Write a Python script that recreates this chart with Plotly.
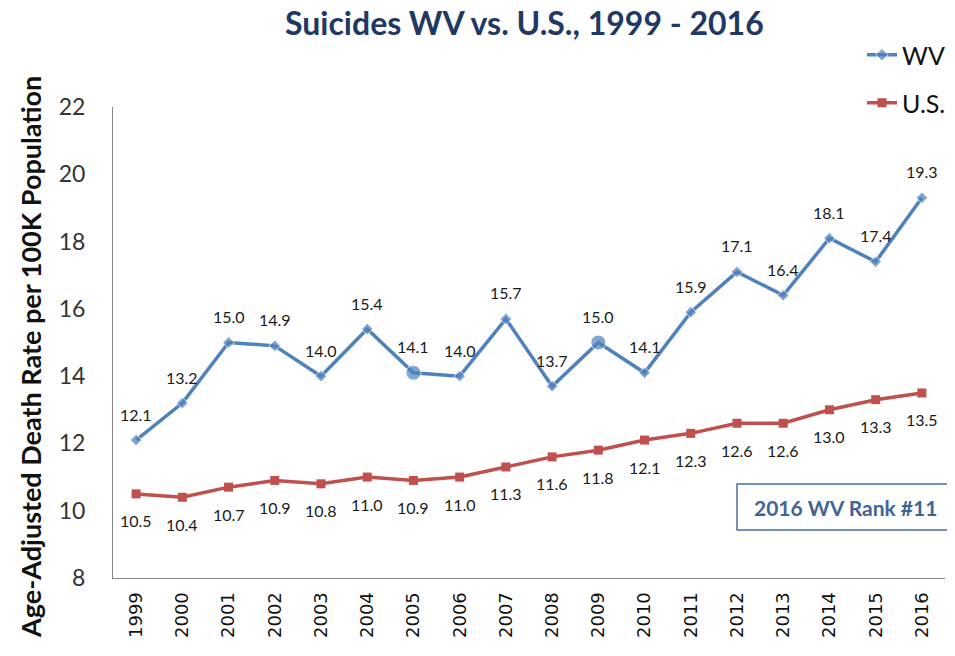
import plotly.graph_objects as go

years = [str(y) for y in range(1999, 2017)]
wv = [12.1, 13.2, 15.0, 14.9, 14.0, 15.4, 14.1, 14.0, 15.7, 13.7, 15.0, 14.1, 15.9, 17.1, 16.4, 18.1, 17.4, 19.3]
us = [10.5, 10.4, 10.7, 10.9, 10.8, 11.0, 10.9, 11.0, 11.3, 11.6, 11.8, 12.1, 12.3, 12.6, 12.6, 13.0, 13.3, 13.5]
highlight_years = ["2005", "2009"]

BLUE = "#4F81BD"
RED = "#C0504D"
LBL_FONT = dict(family="Lato, Liberation Sans", size=16, color="#1a1a1a")

# page has an 8px body margin; figure is sized/offset so plot area lands at page px 113..945, 107..578
W, H = 947, 648
L, T, R, B = 105, 99, 10, 78
PW, PH = W - L - R, H - T - B

wv_symbols = ["circle" if y in highlight_years else "diamond" for y in years]
wv_sizes = [15 if y in highlight_years else 9 for y in years]

fig = go.Figure()
fig.add_trace(go.Scatter(
    x=years, y=wv, name="WV", mode="lines+markers",
    line=dict(color=BLUE, width=3.5),
    marker=dict(color=BLUE, symbol=wv_symbols, size=wv_sizes),
    legend="legend",
))
fig.add_trace(go.Scatter(
    x=years, y=us, name="U.S.", mode="lines+markers",
    line=dict(color=RED, width=3.5),
    marker=dict(color=RED, symbol="square", size=9),
    legend="legend2",
))

for i, v in enumerate(wv):
    fig.add_annotation(x=i, y=v, xref="x", yref="y", text=f"{v:.1f}", showarrow=False,
                       yshift=26, font=LBL_FONT)
for i, v in enumerate(us):
    fig.add_annotation(x=i, y=v, xref="x", yref="y", text=f"{v:.1f}", showarrow=False,
                       yshift=-27, font=LBL_FONT)

def px(page_x):
    return (page_x - 8 - L) / PW

def py(page_y):
    return (H - B - (page_y - 8)) / PH

fig.update_layout(
    width=W, height=H,
    margin=dict(l=L, r=R, t=T, b=B, autoexpand=False),
    paper_bgcolor="white", plot_bgcolor="white",
    legend=dict(x=px(862), y=py(55), xanchor="left", yanchor="middle",
                font=dict(family="Lato", size=25, color="#111"),
                bgcolor="rgba(0,0,0,0)"),
    legend2=dict(x=px(862), y=py(103), xanchor="left", yanchor="middle",
                 font=dict(family="Lato", size=25, color="#111"),
                 bgcolor="rgba(0,0,0,0)"),
    xaxis=dict(type="category", range=[-0.5, 17.5], showgrid=False, automargin=False,
               showline=True, linecolor="#868686", linewidth=1,
               tickangle=-90, ticks="", ticklabelstandoff=6,
               tickfont=dict(family="DejaVu Sans", size=18, color="#111")),
    yaxis=dict(range=[8, 22], dtick=2, showgrid=False, zeroline=False, automargin=False,
               showline=True, linecolor="#868686", linewidth=1, ticks="",
               ticklabelstandoff=22,
               tickfont=dict(family="Lato", size=23, color="#333")),
    showlegend=True,
)

# chart title
fig.add_annotation(xref="paper", yref="paper", x=px(524), y=py(22),
                   xanchor="center", yanchor="middle", showarrow=False,
                   text="<b>Suicides WV vs. U.S., 1999 - 2016</b>",
                   font=dict(family="Lato, sans-serif", size=32, color="#1F3864"))

fig.add_annotation(xref="paper", yref="paper", x=px(30), y=py(357),
                   xanchor="center", yanchor="middle", showarrow=False, textangle=-90,
                   text="<b>Age-Adjusted Death Rate per 100K Population</b>",
                   font=dict(family="Lato", size=27, color="#111"))

fig.add_shape(type="rect", xref="paper", yref="paper",
              x0=px(737), x1=1.03, y0=py(530), y1=py(484),
              line=dict(color="#4A6FA5", width=1.5), fillcolor="white", layer="below")
fig.add_annotation(xref="paper", yref="paper", x=px(752), y=py(507),
                   xanchor="left", yanchor="middle", showarrow=False,
                   text="<b>2016 WV Rank #11</b>",
                   font=dict(family="Lato", size=21, color="#3F6597"))

fig.write_html("out.html")
